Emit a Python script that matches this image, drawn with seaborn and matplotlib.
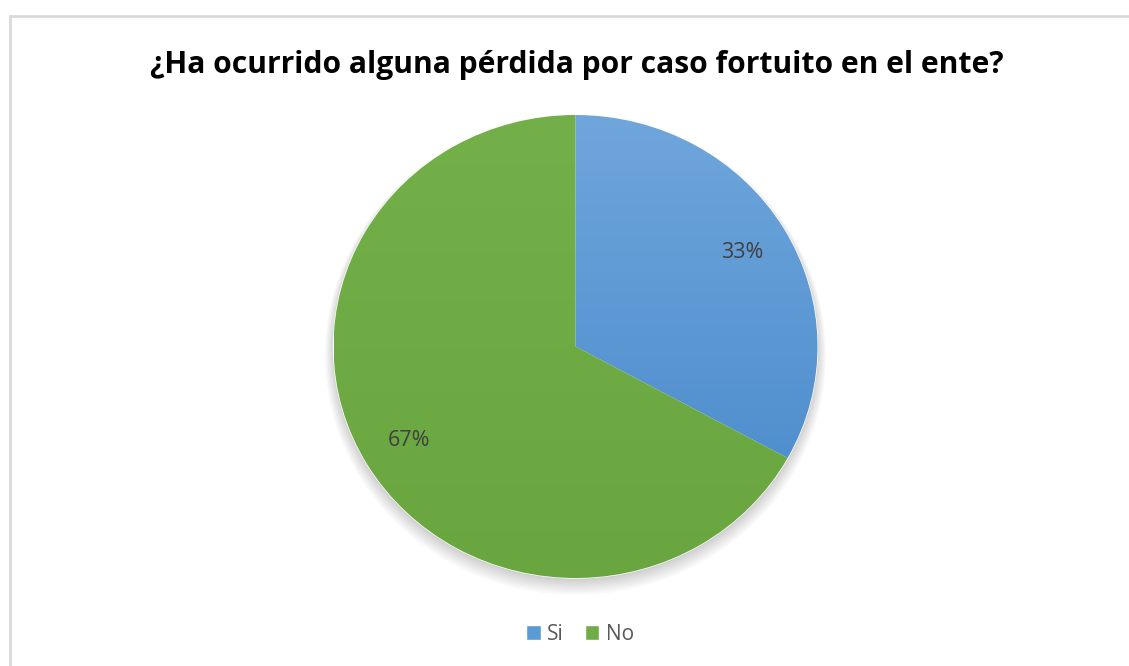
import numpy as np
import matplotlib
matplotlib.use('Agg')
import matplotlib.pyplot as plt
import seaborn as sns
from matplotlib.patches import Rectangle, Patch, Ellipse
from matplotlib.colors import LinearSegmentedColormap

labels = ['Si', 'No']
values = [33, 67]
colors = ['#5B9BD5', '#70AD47']
title = '¿Ha ocurrido alguna pérdida por caso fortuito en el ente?'

sns.set_theme(style='white')
plt.rcParams['font.family'] = ['Open Sans', 'DejaVu Sans']

W, H = 1129, 666
fig = plt.figure(figsize=(W / 100, H / 100), dpi=100)

# chart frame (cut at right/bottom edges like the screenshot)
fig.patches.append(Rectangle((10 / W, -0.1), 1.2, (H - 16) / H + 0.1,
                             transform=fig.transFigure, fill=False,
                             edgecolor='#D9D9D9', linewidth=2))

# pie is slightly squashed vertically in the screenshot
cx, cy, rx, ry = 575.5, 346.5, 242, 231.5
ax = fig.add_axes([(cx - rx) / W, (H - cy - ry) / H, 2 * rx / W, 2 * ry / H])

# soft drop shadow
for i in range(8):
    ax.add_patch(Ellipse((0, -0.01 - i * 0.004), 2 + i * 0.01, 2 + i * 0.01,
                         facecolor='#000000', edgecolor='none', alpha=0.025,
                         zorder=0, clip_on=False))

wedges, texts, autotexts = ax.pie(values, colors=colors, startangle=90,
                                  counterclock=False, autopct='%1.0f%%',
                                  pctdistance=0.8,
                                  textprops={'fontsize': 15.5, 'color': '#404040'})
ax.set_xlim(-1, 1)
ax.set_ylim(-1, 1)
ax.set_aspect('auto')
ax.axis('off')

# soft vertical gradient on the slices
grads = [LinearSegmentedColormap.from_list('b', ['#4587C9', '#6FA6DC']),
         LinearSegmentedColormap.from_list('g', ['#6AA63F', '#74B04A'])]
grad = np.linspace(0, 1, 256).reshape(-1, 1)
for w, cm in zip(wedges, grads):
    im = ax.imshow(grad, cmap=cm, extent=[-1, 1, -1, 1], origin='lower',
                   aspect='auto', zorder=w.get_zorder())
    im.set_clip_path(w)
for t in autotexts:
    t.set_zorder(5)

fig.text(577 / W, 1 - 65 / H, title, ha='center', va='center',
         fontsize=21.6, fontweight='bold', color='#000000')

handles = [Patch(facecolor=c, label=l) for c, l in zip(colors, labels)]
fig.legend(handles=handles, loc='center', bbox_to_anchor=(580 / W, 1 - 634 / H),
           ncol=2, frameon=False, fontsize=15, handlelength=0.7, handleheight=0.7,
           handletextpad=0.3, columnspacing=1.0, labelcolor='#595959')

fig.savefig('out.png', dpi=100, facecolor='white')
